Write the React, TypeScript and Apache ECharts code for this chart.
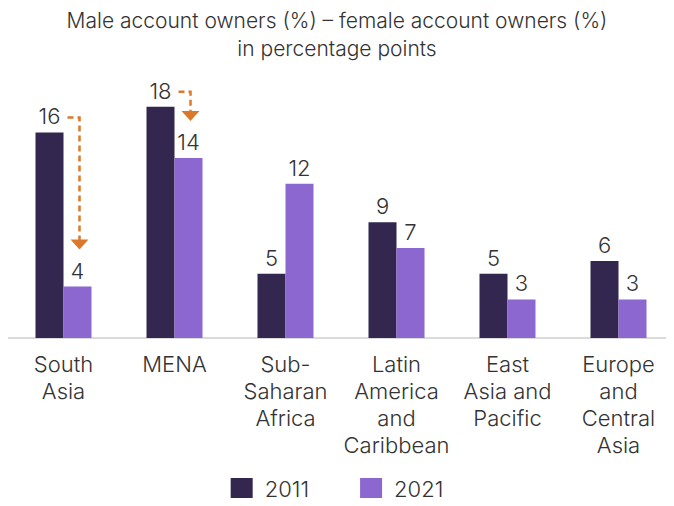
import React, { useEffect, useRef } from "react";
import * as echarts from "echarts";

const categories = [
  "South\nAsia",
  "MENA",
  "Sub-\nSaharan\nAfrica",
  "Latin\nAmerica\nand\nCaribbean",
  "East\nAsia and\nPacific",
  "Europe\nand\nCentral\nAsia",
];
const values2011 = [16, 18, 5, 9, 5, 6];
const values2021 = [4, 14, 12, 7, 3, 3];
const arrowCategories = [0, 1];

const DARK = "#33264f";
const LIGHT = "#8b67cf";
const ORANGE = "#dc782c";
const TEXT = "#333333";
const FONT = "Inter, 'Open Sans', sans-serif";
const WEIGHT = 300;

export default function App() {
  const ref = useRef<HTMLDivElement>(null);
  useEffect(() => {
    if (!ref.current) return;
    const chart = echarts.init(ref.current, null, { renderer: "svg" });
    const labelStyle = {
      show: true,
      position: "top" as const,
      distance: 5,
      fontSize: 22,
      fontWeight: WEIGHT,
      color: TEXT,
      fontFamily: FONT,
    };
    chart.setOption({
      animation: false,
      textStyle: { fontFamily: FONT },
      title: {
        text: "Male account owners (%) – female account owners (%)\nin percentage points",
        left: "center",
        top: 1,
        textStyle: {
          fontSize: 21,
          fontWeight: WEIGHT,
          color: TEXT,
          lineHeight: 28,
          fontFamily: FONT,
        },
      },
      legend: {
        bottom: 1,
        left: "center",
        itemWidth: 22,
        itemHeight: 22,
        itemGap: 51,
        icon: "rect",
        textStyle: { fontSize: 22, fontWeight: WEIGHT, color: TEXT, fontFamily: FONT, padding: [0, 0, 0, 7] },
        data: ["2011", "2021"],
      },
      grid: { left: 8, width: 670, top: 81, height: 257, containLabel: false },
      xAxis: {
        type: "category",
        data: categories,
        axisLine: { lineStyle: { color: "#cfcfcf", width: 1.5 } },
        axisTick: { show: false },
        axisLabel: {
          interval: 0,
          fontSize: 22,
          fontWeight: WEIGHT,
          lineHeight: 27,
          color: TEXT,
          margin: 12,
          fontFamily: FONT,
        },
      },
      yAxis: {
        type: "value",
        min: 0,
        max: 20,
        show: false,
        splitLine: { show: false },
      },
      series: [
        {
          name: "2011",
          type: "bar",
          data: values2011,
          barWidth: 28,
          barGap: "0%",
          itemStyle: { color: DARK },
          label: labelStyle,
        },
        {
          name: "2021",
          type: "bar",
          data: values2021,
          barWidth: 28,
          itemStyle: { color: LIGHT },
          label: labelStyle,
        },
      ],
    });

    const graphics: any[] = [];
    arrowCategories.forEach((i) => {
      const p1 = chart.convertToPixel({ xAxisIndex: 0, yAxisIndex: 0 }, [i, values2011[i]]) as number[];
      const p2 = chart.convertToPixel({ xAxisIndex: 0, yAxisIndex: 0 }, [i, values2021[i]]) as number[];
      const cx = p1[0];
      const yTop = p1[1] - 15;
      const xv = cx + 16;
      const tip = p2[1] - 37;
      graphics.push({
        type: "polyline",
        shape: { points: [[cx + 4, yTop], [xv, yTop], [xv, tip - 8]] },
        style: { stroke: ORANGE, lineWidth: 2.5, lineDash: [6, 4], fill: null },
        silent: true,
      });
      graphics.push({
        type: "polygon",
        shape: { points: [[xv - 9, tip - 10], [xv + 9, tip - 10], [xv, tip]] },
        style: { fill: ORANGE },
        silent: true,
      });
    });
    chart.setOption({ graphic: graphics });

    return () => chart.dispose();
  }, []);
  return <div ref={ref} style={{ width: 674, height: 506, margin: -8 }} />;
}
